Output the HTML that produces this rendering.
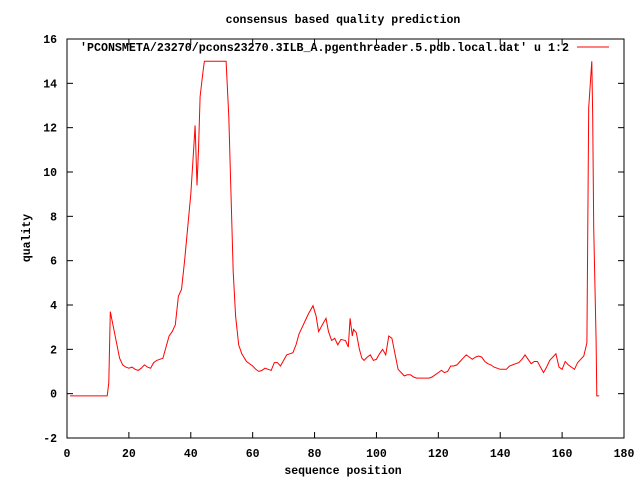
<!DOCTYPE html>
<html><head><meta charset="utf-8"><style>
body{margin:0;background:#fff}
svg text{font-family:"Liberation Mono",monospace;font-size:11.5px;font-weight:bold;fill:#000}
</style></head><body>
<svg id="chart" width="640" height="480" xmlns="http://www.w3.org/2000/svg">
<rect width="640" height="480" fill="#fff"/>
<text x="343" y="23" text-anchor="middle">consensus based quality prediction</text>
<g id="axes"></g>
<rect x="67" y="39" width="557" height="399" fill="none" stroke="#000" stroke-width="1"/>
<text x="569" y="51" text-anchor="end" textLength="489" lengthAdjust="spacingAndGlyphs">'PCONSMETA/23270/pcons23270.3ILB_A.pgenthreader.5.pdb.local.dat' u 1:2</text>
<line x1="577" y1="47" x2="609" y2="47" stroke="#f00" stroke-width="1"/>
<text transform="translate(30,238) rotate(-90)" text-anchor="middle">quality</text>
<text x="343" y="474" text-anchor="middle">sequence position</text>
<g id="series"></g>
</svg>
<script>
const xTicks=[0,20,40,60,80,100,120,140,160,180];
const yTicks=[-2,0,2,4,6,8,10,12,14,16];
const seqPos=[1,13,13.5,14,15,16,17,18,19,20,21,22,23,24,25,26,27,28,29,30,31,32,33,34,35,36,37,38,39,40,41,41.4,42,42.5,43,44,44.4,51.4,52.3,53,53.7,54.5,55.5,56.5,58,60,61,62,63,64,65,66,67,68,69,70,71,72,73,74,75,76,77,78,79.5,80.5,81.3,82.5,83.7,84.5,85.5,86.5,87.5,88.5,90,90.9,91.5,92.2,92.6,93.5,94.5,95.3,96,97,98,99,100,101,102,103,104,105,106,107,108,109,110,111,112,113,117,118,119,120,121,122,123,124,125,126,127,128,129,130,131,132,133,134,135,136,137,138,139,140,141,142,143,144,145,146,147,148,149,150,151,152,153,154,155,156,157,158,159,160,161,162,163,164,165,166,167,168,168.6,169.6,169.9,170.2,171,171.2,172];
const quality=[-0.1,-0.1,0.5,3.7,3.0,2.3,1.6,1.3,1.2,1.15,1.2,1.1,1.05,1.15,1.3,1.2,1.15,1.4,1.5,1.55,1.6,2.1,2.6,2.8,3.1,4.4,4.7,6.0,7.5,9.0,11.2,12.1,9.4,11,13.4,14.6,15,15,12.5,9.0,5.5,3.5,2.2,1.8,1.45,1.25,1.1,1.0,1.05,1.15,1.1,1.05,1.4,1.4,1.25,1.5,1.75,1.8,1.85,2.2,2.7,3.0,3.3,3.6,3.97,3.5,2.8,3.1,3.4,2.8,2.4,2.5,2.2,2.45,2.4,2.1,3.4,2.6,2.9,2.75,2.0,1.6,1.5,1.65,1.75,1.5,1.55,1.8,2.0,1.75,2.6,2.5,1.8,1.1,0.95,0.8,0.85,0.85,0.75,0.7,0.7,0.75,0.85,0.95,1.05,0.95,1.0,1.25,1.25,1.3,1.45,1.6,1.75,1.65,1.55,1.65,1.7,1.65,1.45,1.35,1.3,1.2,1.15,1.1,1.1,1.1,1.25,1.3,1.35,1.4,1.55,1.75,1.55,1.35,1.45,1.45,1.2,0.95,1.2,1.5,1.65,1.8,1.2,1.1,1.45,1.3,1.2,1.1,1.4,1.55,1.7,2.3,12.9,15,12.5,7.5,2.4,-0.1,-0.1];
const NS="http://www.w3.org/2000/svg";
const L=67,R=624,T=39,B=438;
function xs(v){return L+(v-0)/(180-0)*(R-L);}
function ys(v){return B-(v+2)/(16+2)*(B-T);}
const axes=document.getElementById('axes');
function mk(tag,attrs,parent){const e=document.createElementNS(NS,tag);for(const k in attrs)e.setAttribute(k,attrs[k]);parent.appendChild(e);return e;}
yTicks.forEach(v=>{
  const y=ys(v);
  const t1=mk('line',{x1:L,y1:y,x2:L+6,y2:y,stroke:'#000'},axes);
  
  
  const t2=mk('line',{x1:R,y1:y,x2:R-6,y2:y,stroke:'#000'},axes);
  
  
  const tx=mk('text',{x:57,y:y+4,'text-anchor':'end'},axes);
  tx.textContent=v;
  
  
});
xTicks.forEach(v=>{
  const x=xs(v);
  const t1=mk('line',{x1:x,y1:B,x2:x,y2:B-6,stroke:'#000'},axes);
  
  
  const t2=mk('line',{x1:x,y1:T,x2:x,y2:T+6,stroke:'#000'},axes);
  
  
  const tx=mk('text',{x:x,y:457,'text-anchor':'middle'},axes);
  tx.textContent=v;
  
  
});
const pts=seqPos.map((x,i)=>xs(x).toFixed(1)+','+ys(quality[i]).toFixed(1)).join(' ');
const line=mk('polyline',{points:pts,fill:'none',stroke:'#f00','stroke-width':1},document.getElementById('series'));


</script>
</body></html>
